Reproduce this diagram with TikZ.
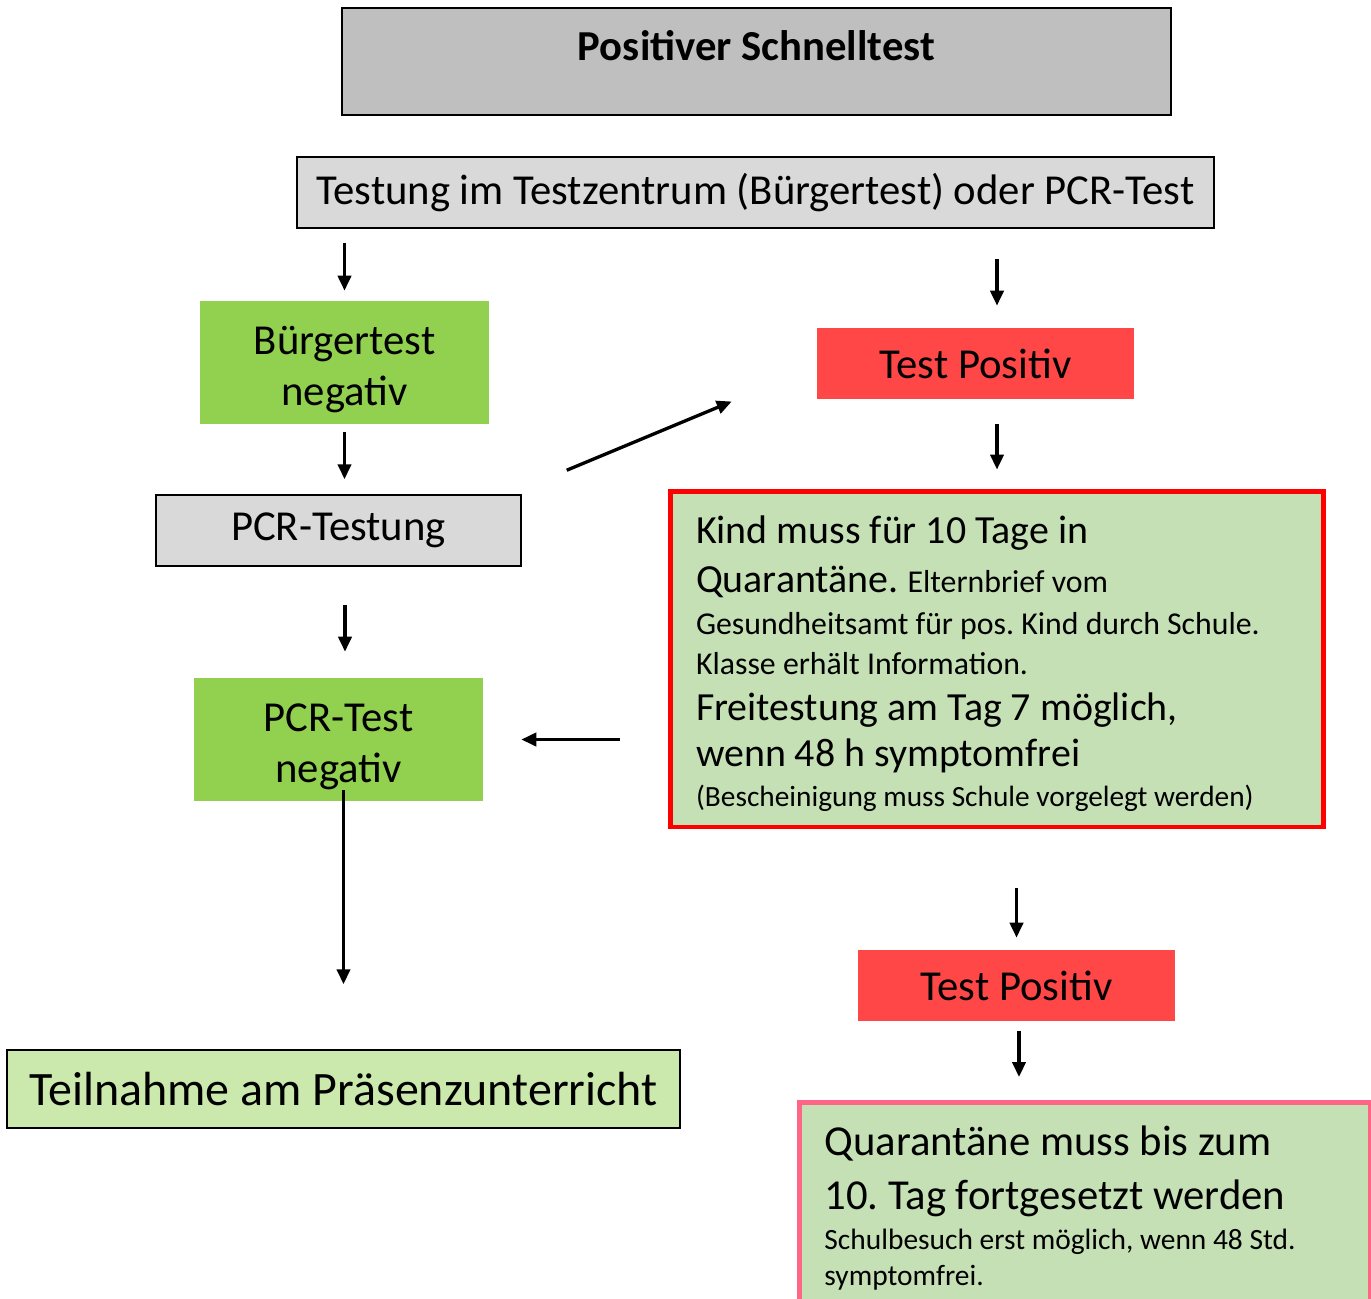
\documentclass[tikz,border=0pt]{standalone}
\usepackage{fontspec}
\setmainfont{Carlito}
\usetikzlibrary{arrows.meta}
\frenchspacing

\definecolor{headgray}{HTML}{BFBFBF}
\definecolor{lightgray}{HTML}{D9D9D9}
\definecolor{okgreen}{HTML}{92D050}
\definecolor{posred}{HTML}{FF4747}
\definecolor{paleGreen}{HTML}{C5E0B4}
\definecolor{teilGreen}{HTML}{CBE8AD}
\definecolor{quarPink}{HTML}{FF6685}

\tikzset{
  box/.style={rectangle, inner sep=0pt, align=center, font=\fontsize{24.3pt}{29.5pt}\selectfont},
  framed/.style={box, draw=black, line width=0.9pt},
  arr/.style={-{Triangle[length=8.5pt,width=7.5pt]}, line width=1.9pt},
}

\begin{document}
\begin{tikzpicture}[x=0.02cm, y=-0.02cm]
  \useasboundingbox (0,0) rectangle (1371,1298);
  \clip (0,0) rectangle (1371,1298);
  % top row
  \node[framed, fill=headgray, minimum width=16.58cm, text height=1.04cm, text depth=1.10cm,
        font=\fontsize{24.3pt}{26pt}\selectfont\bfseries] (schnell) at (756.5,61.5) {Positiver Schnelltest};
  \node[framed, fill=lightgray, minimum width=18.34cm, minimum height=1.42cm] (testung) at (755.5,192.5) {Testung im Testzentrum (Bürgertest) oder PCR-Test};
  % left branch
  \node[box, fill=okgreen, minimum width=5.78cm, minimum height=2.46cm] (buerger) at (344.5,362.5) {\rule{0pt}{24pt}Bürgertest\\negativ};
  \node[framed, fill=lightgray, minimum width=7.3cm, minimum height=1.42cm] (pcrt) at (338.5,530.5) {PCR-Testung};
  \node[box, fill=okgreen, minimum width=5.78cm, minimum height=2.46cm] (pcrneg) at (338.5,739.5) {\rule{0pt}{24pt}PCR-Test\\negativ};
  \node[framed, fill=teilGreen, minimum width=13.46cm, minimum height=1.56cm,
        font=\fontsize{27.3pt}{29pt}\selectfont] (teil) at (343.5,1089) {Teilnahme am Präsenzunterricht};
  % right branch
  \node[box, fill=posred, minimum width=6.34cm, minimum height=1.42cm] (pos1) at (975.5,363.5) {Test Positiv};
  \node[box, draw=red, line width=2.8pt, fill=paleGreen, minimum height=6.72cm, text width=12.04cm,
        inner xsep=0.52cm, align=flush left, font=\fontsize{22.7pt}{22pt}\selectfont] (quar) at (997,659)
    {\rule{0pt}{21pt}Kind muss für 10 Tage in\\[6pt]
     Quarantäne. {\fontsize{18.1pt}{22pt}\selectfont Elternbrief vom}\\[1.8pt]
     {\fontsize{18.1pt}{22pt}\selectfont Gesundheitsamt für pos. Kind durch Schule.}\\[0.7pt]
     {\fontsize{18.1pt}{22pt}\selectfont Klasse erhält Information.}\\[4.1pt]
     Freitestung am Tag 7 möglich,\\[4.6pt]
     wenn 48 h symptomfrei\\[0.7pt]
     {\fontsize{16.7pt}{22pt}\selectfont (Bescheinigung muss Schule vorgelegt werden)}};
  \node[box, fill=posred, minimum width=6.34cm, minimum height=1.42cm] (pos2) at (1016.5,985.5) {Test Positiv};
  \node[box, draw=quarPink, line width=2.8pt, fill=paleGreen, anchor=north west, minimum height=4.22cm,
        text width=10.42cm, inner xsep=0.5cm, align=flush left, font=\fontsize{24.3pt}{31pt}\selectfont] (quar2) at (797,1100)
    {Quarantäne muss bis zum\\
     10. Tag fortgesetzt werden\\[-8.5pt]
     {\fontsize{16.75pt}{20pt}\selectfont Schulbesuch erst möglich, wenn 48 Std.}\\[-10.5pt]
     {\fontsize{16.75pt}{20pt}\selectfont symptomfrei.}};
  % arrows
  \draw[arr, shorten <=0.28cm, shorten >=0.2cm] (buerger.north |- testung.south) -- (buerger.north);
  \draw[arr, shorten <=0.6cm, shorten >=0.44cm] ([xshift=0.43cm]pos1.north |- testung.south) -- ([xshift=0.43cm]pos1.north);
  \draw[arr, shorten <=0.16cm, shorten >=0.3cm] (buerger.south) -- (buerger.south |- pcrt.north);
  \draw[arr] ([shift={(0.9cm,0.48cm)}]pcrt.north east) -- ([shift={(-1.7cm,-0.76cm)}]pos1.west);
  \draw[arr, shorten <=0.5cm, shorten >=0.38cm] (quar.north |- pos1.south) -- (quar.north);
  \draw[arr, shorten <=0.76cm, shorten >=0.52cm] ([xshift=0.13cm]pcrt.south) -- ([xshift=0.13cm]pcrneg.north);
  \draw[arr, shorten <=0.96cm, shorten >=0.76cm] (quar.west |- pcrneg.east) -- (pcrneg.east);
  \draw[arr, shorten <=-0.22cm, shorten >=1.3cm] (pcrneg.south -| teil.north) -- (teil.north);
  \draw[arr, shorten <=1.18cm, shorten >=0.24cm] (pos2.north |- quar.south) -- (pos2.north);
  \draw[arr, shorten <=0.2cm, shorten >=0.46cm] ([xshift=0.05cm]pos2.south) -- ([xshift=0.05cm]pos2.south |- quar2.north);
\end{tikzpicture}
\end{document}
